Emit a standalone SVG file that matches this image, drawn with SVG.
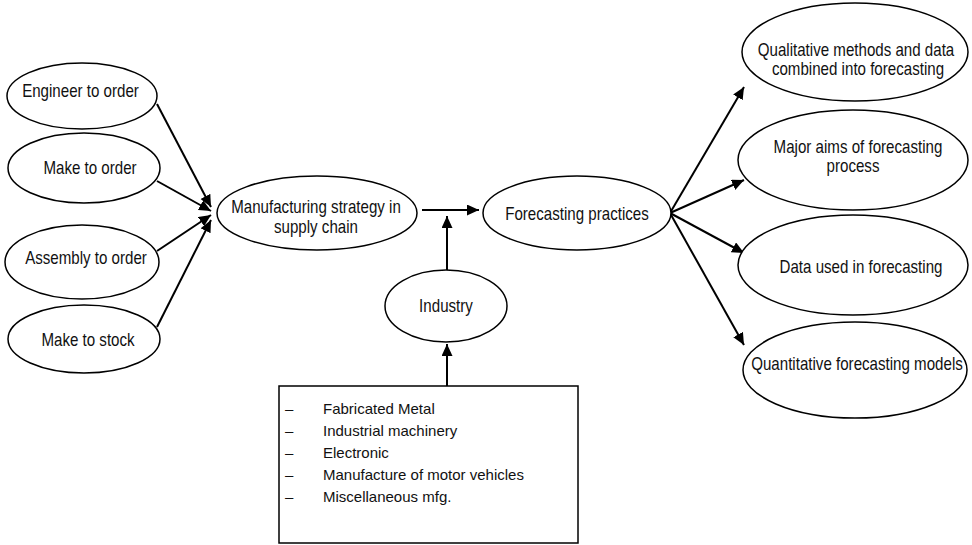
<svg xmlns="http://www.w3.org/2000/svg" width="972" height="545" viewBox="0 0 972 545">
<style>
.n ellipse{fill:#fff;stroke:#000;stroke-width:1.5}
.box{fill:#fff;stroke:#000;stroke-width:1.5}
text{font-family:"Liberation Sans",Arial,sans-serif;font-size:18px;fill:#111;text-anchor:middle}
.lst text{font-size:15px;text-anchor:start}
#connectors line{stroke:#000;stroke-width:2;marker-end:url(#ah)}
</style>
<defs>
<marker id="ah" markerUnits="userSpaceOnUse" markerWidth="13" markerHeight="12" refX="12" refY="5.5" orient="auto">
<path d="M0,0 L12,5.5 L0,11 Z" fill="#000"/>
</marker>
</defs>
<rect width="972" height="545" fill="#fff"/>

<g id="connectors">
<line x1="157" y1="104" x2="211" y2="207"/>
<line x1="157" y1="181" x2="211" y2="211"/>
<line x1="157" y1="251" x2="211" y2="215"/>
<line x1="157" y1="327" x2="211" y2="220"/>
<line x1="422" y1="210" x2="479" y2="210"/>
<line x1="447" y1="270" x2="447" y2="216"/>
<line x1="447" y1="386" x2="447" y2="344"/>
<line x1="670" y1="213" x2="744" y2="87"/>
<line x1="670" y1="213" x2="744" y2="180"/>
<line x1="670" y1="213" x2="744" y2="253"/>
<line x1="670" y1="213" x2="744" y2="345"/>
</g>

<g id="engineer" class="n">
<ellipse cx="82" cy="96" rx="75" ry="33"/>
<text transform="translate(80.5,97) scale(0.84,1)">Engineer to order</text>
</g>
<g id="make-order" class="n">
<ellipse cx="84" cy="168" rx="76" ry="35"/>
<text transform="translate(90,174) scale(0.84,1)">Make to order</text>
</g>
<g id="assembly" class="n">
<ellipse cx="82" cy="262" rx="77" ry="37"/>
<text transform="translate(86,264) scale(0.84,1)">Assembly to order</text>
</g>
<g id="make-stock" class="n">
<ellipse cx="84" cy="339" rx="76" ry="34"/>
<text transform="translate(88,346) scale(0.84,1)">Make to stock</text>
</g>

<g id="manufacturing" class="n">
<ellipse cx="317" cy="213" rx="100" ry="37"/>
<text transform="translate(316,213) scale(0.84,1)">Manufacturing strategy in</text>
<text transform="translate(316,233) scale(0.84,1)">supply chain</text>
</g>

<g id="forecasting" class="n">
<ellipse cx="577" cy="213" rx="94" ry="37"/>
<text transform="translate(577,220) scale(0.84,1)">Forecasting practices</text>
</g>

<g id="industry" class="n">
<ellipse cx="446" cy="306" rx="61" ry="36"/>
<text transform="translate(446,312) scale(0.84,1)">Industry</text>
</g>

<g id="industry-list" class="lst">
<rect class="box" x="279" y="386" width="299" height="157"/>
<text x="285" y="414">–</text><text x="323" y="414">Fabricated Metal</text>
<text x="285" y="436">–</text><text x="323" y="436">Industrial machinery</text>
<text x="285" y="458">–</text><text x="323" y="458">Electronic</text>
<text x="285" y="480">–</text><text x="323" y="480">Manufacture of motor vehicles</text>
<text x="285" y="502">–</text><text x="323" y="502">Miscellaneous mfg.</text>
</g>

<g id="qualitative" class="n">
<ellipse cx="855" cy="52" rx="113" ry="49"/>
<text transform="translate(856,56) scale(0.84,1)">Qualitative methods and data</text>
<text transform="translate(858,75) scale(0.84,1)">combined into forecasting</text>
</g>
<g id="aims" class="n">
<ellipse cx="853" cy="160" rx="115" ry="50"/>
<text transform="translate(858,153) scale(0.84,1)">Major aims of forecasting</text>
<text transform="translate(853,172) scale(0.84,1)">process</text>
</g>
<g id="data-used" class="n">
<ellipse cx="853" cy="265" rx="115" ry="50"/>
<text transform="translate(861,273) scale(0.84,1)">Data used in forecasting</text>
</g>
<g id="quantitative" class="n">
<ellipse cx="855" cy="370" rx="112" ry="48"/>
<text transform="translate(857,370) scale(0.84,1)">Quantitative forecasting models</text>
</g>
</svg>
